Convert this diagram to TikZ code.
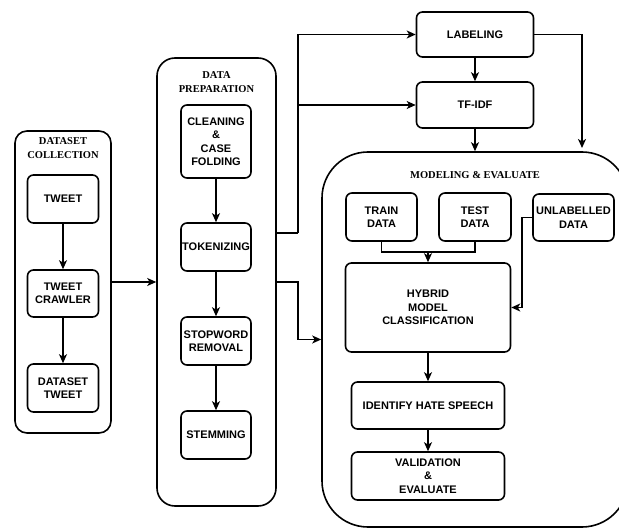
\documentclass[tikz,border=0pt]{standalone}
\usepackage{fontspec}
\setmainfont{Liberation Sans}
\newfontfamily\ttlfont{Liberation Serif}
\usetikzlibrary{arrows.meta}
\begin{document}
\begin{tikzpicture}[x=1pt,y=-1pt,
  box/.style={draw, line width=1.6pt, rounded corners=6pt, align=center, inner sep=0pt,
    font=\fontsize{11}{13.5}\selectfont\bfseries},
  cont/.style={draw, line width=1.6pt, inner sep=0pt},
  ttl/.style={align=center, inner sep=0pt, font=\ttlfont\fontsize{10.5}{14}\selectfont\bfseries},
  arr/.style={line width=1.7pt, -{Stealth[length=9pt,width=8pt,inset=2.5pt]}},
  ln/.style={line width=1.7pt}]
\useasboundingbox (0,0) rectangle (619,529);

% containers
\node[cont, rounded corners=12pt, minimum width=96, minimum height=302] (dc) at (63,282) {};
\node[cont, rounded corners=18pt, minimum width=119, minimum height=448] (dp) at (216.5,282) {};
\node[cont, rounded corners=46pt, minimum width=306, minimum height=375] (me) at (475,339.5) {};

\node[ttl] (t1) at (63,148) {DATASET\\COLLECTION};
\node[ttl] (t2) at (216.5,82) {DATA\\PREPARATION};
\node[ttl] (t3) at (475,175.5) {MODELING \& EVALUATE};

% dataset collection
\node[box, minimum width=71, minimum height=48] (tweet) at (63,199) {TWEET};
\node[box, minimum width=71, minimum height=47] (crawl) at (63,293.5) {TWEET\\CRAWLER};
\node[box, minimum width=71, minimum height=48] (dtw) at (63,388) {DATASET\\TWEET};

% data preparation
\node[box, minimum width=70, minimum height=73] (clean) at (216,141.5) {CLEANING\\\&\\CASE\\FOLDING};
\node[box, minimum width=70, minimum height=48] (token) at (216,247) {TOKENIZING};
\node[box, minimum width=70, minimum height=48] (stop) at (216,341) {STOPWORD\\REMOVAL};
\node[box, minimum width=70, minimum height=48] (stem) at (216,435) {STEMMING};

% labeling / tf-idf
\node[box, minimum width=117, minimum height=45] (lab) at (475,34.5) {LABELING};
\node[box, minimum width=117, minimum height=46] (tfidf) at (475,105) {TF-IDF};

% modeling
\node[box, minimum width=71, minimum height=48] (train) at (381.5,217) {TRAIN\\DATA};
\node[box, minimum width=72, minimum height=48] (test) at (475,217) {TEST\\DATA};
\node[box, minimum width=81, minimum height=47] (unl) at (573.5,217.5) {UNLABELLED\\DATA};
\node[box, minimum width=165, minimum height=89] (hyb) at (428,307.5) {HYBRID\\MODEL\\CLASSIFICATION};
\node[box, minimum width=153, minimum height=47] (iden) at (428,405.5) {IDENTIFY HATE SPEECH};
\node[box, minimum width=153, minimum height=48] (val) at (428,476) {VALIDATION\\\&\\EVALUATE};

% junction coordinates
\coordinate (dpu) at (276,233);
\coordinate (ju) at (298,233);
\coordinate (jl) at (298,282);
\coordinate (lr) at (582,148);
\coordinate (tt) at (428,252);
\coordinate (uc) at (522,217.5);

% arrows
\draw[arr] (tweet) -- (crawl);
\draw[arr] (crawl) -- (dtw);
\draw[arr] (clean) -- (token);
\draw[arr] (token) -- (stop);
\draw[arr] (stop) -- (stem);
\draw[arr] (dc.east) -- (dp.west);

\draw[ln] (dpu) -- (ju);
\draw[arr] (ju) |- (lab.west);
\draw[arr] (ju) |- (tfidf.west);
\draw[arr] (dp.east) -- (jl) |- (me.west);

\draw[arr] (lab) -- (tfidf);
\draw[arr] (tfidf.south) -- (tfidf.south |- me.north);
\draw[arr] (lab.east) -| (lr);

\draw[ln] (train.south) |- (tt);
\draw[ln] (test.south) |- (tt);
\draw[arr] (tt) -- (hyb.north);
\draw[ln] (unl.west) -- (uc);
\draw[arr] (uc) |- (hyb.east);
\draw[arr] (hyb) -- (iden);
\draw[arr] (iden) -- (val);
\end{tikzpicture}
\end{document}
